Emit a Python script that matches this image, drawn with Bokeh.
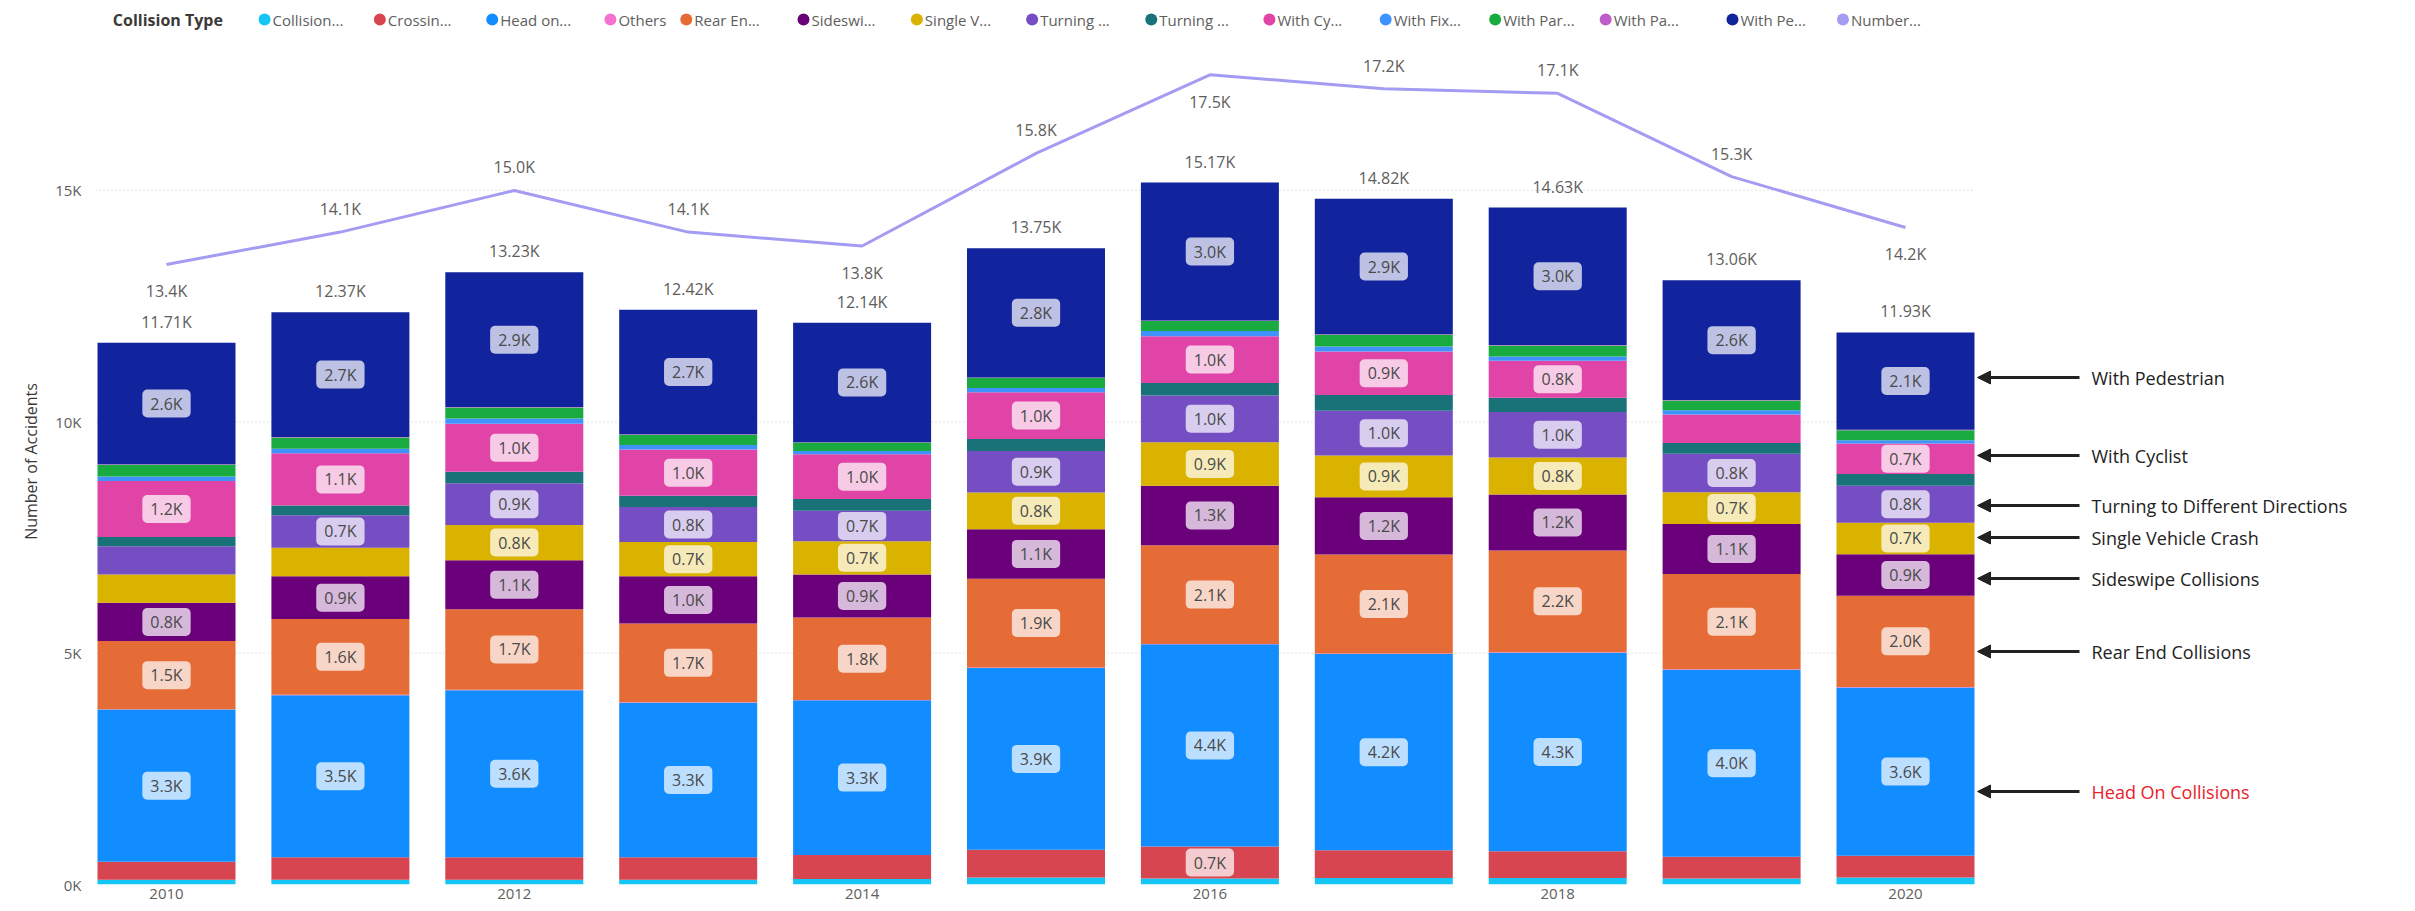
from bokeh.plotting import figure
from bokeh.layouts import column
from bokeh.models import (ColumnDataSource, FixedTicker, Arrow, NormalHead,
                          CustomJSTickFormatter, Range1d)
from bokeh.core.properties import value
from bokeh.embed import file_html
from bokeh.resources import INLINE

# ---------------- data ----------------
years = [2010, 2011, 2012, 2013, 2014, 2015, 2016, 2017, 2018, 2019, 2020]
year_ticks = [2010, 2012, 2014, 2016, 2018, 2020]
y_ticks = [0, 5000, 10000, 15000]

collision       = [100, 100, 100, 100, 120, 150, 130, 140, 140, 130, 150]
crossing        = [390, 490, 490, 490, 520, 600, 690, 600, 580, 470, 470]
head_on         = [3290, 3500, 3610, 3340, 3340, 3930, 4370, 4240, 4290, 4040, 3640]
others          = [10, 10, 10, 10, 10, 10, 10, 10, 10, 10, 10]
rear_end        = [1470, 1640, 1740, 1700, 1780, 1920, 2130, 2140, 2200, 2060, 1970]
sideswipe       = [830, 920, 1060, 1020, 930, 1070, 1290, 1240, 1210, 1080, 900]
single_vehicle  = [610, 620, 760, 740, 720, 790, 940, 900, 800, 690, 680]
turning_diff    = [610, 700, 900, 760, 660, 900, 1010, 970, 980, 830, 800]
turning_other   = [200, 210, 250, 240, 250, 260, 270, 340, 310, 230, 250]
with_cyclist    = [1210, 1130, 1040, 1000, 970, 1010, 1010, 940, 800, 620, 660]
with_fixed      = [100, 100, 110, 100, 70, 90, 110, 110, 90, 90, 70]
with_parked     = [250, 240, 240, 220, 180, 220, 220, 250, 240, 210, 220]
with_pa         = [10, 10, 10, 10, 10, 10, 10, 10, 10, 10, 10]
with_pedestrian = [2630, 2700, 2910, 2690, 2580, 2790, 2980, 2930, 2970, 2590, 2100]

number_of_accidents = [13400, 14100, 15000, 14100, 13800, 15800, 17500, 17200, 17100, 15300, 14200]
line_label_side = ["below", "above", "above", "above", "below", "above",
                   "below", "above", "above", "above", "below"]

legend_title = "Collision Type"
series_keys = ["collision", "crossing", "head_on", "others", "rear_end", "sideswipe",
               "single_vehicle", "turning_diff", "turning_other", "with_cyclist",
               "with_fixed", "with_parked", "with_pa", "with_pedestrian"]
series_values = [collision, crossing, head_on, others, rear_end, sideswipe,
                 single_vehicle, turning_diff, turning_other, with_cyclist,
                 with_fixed, with_parked, with_pa, with_pedestrian]
legend_labels = ["Collision...", "Crossin...", "Head on...", "Others", "Rear En...",
                 "Sideswi...", "Single V...", "Turning ...", "Turning ...", "With Cy...",
                 "With Fix...", "With Par...", "With Pa...", "With Pe...", "Number..."]
series_colors = ["#15C6F4", "#D64550", "#118DFF", "#F472D0", "#E66C37", "#6B007B",
                 "#D9B300", "#744EC2", "#197278", "#E044A7", "#4092FF", "#1AAB40",
                 "#BE5DC9", "#12239E"]
line_color = "#A49BF2"

annotation_texts = ["With Pedestrian", "With Cyclist", "Turning to Different Directions",
                    "Single Vehicle Crash", "Sideswipe Collisions", "Rear End Collisions",
                    "Head On Collisions"]

# ---------------- layout helpers (window pixels -> data) ----------------
W = 2415
LEG_H = 38
FRAME_LEFT, FRAME_BOTTOM = 95, 884

def xd(px):
    return 2010 + (px - 166) / 173.9

def yd(py):
    return (FRAME_BOTTOM - py) / 0.04627

FONT = value("Open Sans")
GRAY = "#605E5C"

# ---------------- legend strip ----------------
leg = figure(width=W, height=LEG_H, output_backend="svg", toolbar_location=None,
             x_range=Range1d(0, W), y_range=Range1d(0, LEG_H),
             x_axis_type=None, y_axis_type=None, min_border=0)
leg.outline_line_color = None
leg.grid.visible = False
legend_px = [176, 296, 413, 536, 615, 737, 855, 975, 1099, 1222, 1343, 1457, 1572, 1704, 1819]
leg_y = LEG_H - 19
leg.scatter(x=legend_px, y=[leg_y] * len(legend_px), size=12,
            color=series_colors + [line_color], line_width=0)
leg.text(x=legend_px, y=[leg_y] * len(legend_px), text=legend_labels,
         x_offset=8, text_align="left", text_baseline="middle", text_font=FONT,
         text_font_size="15px", text_color=GRAY)
leg.text(x=[18], y=[leg_y], text=[legend_title], text_align="left", text_baseline="middle",
         text_font=FONT, text_font_size="16px", text_font_style="bold", text_color="#3B3A39")

# ---------------- main chart ----------------
H = 911 - LEG_H
p = figure(width=W, height=H, output_backend="svg", toolbar_location=None,
           x_range=Range1d(xd(FRAME_LEFT), xd(W)), y_range=Range1d(0, yd(LEG_H)),
           min_border_left=FRAME_LEFT, min_border_right=0, min_border_top=0,
           min_border_bottom=911 - FRAME_BOTTOM)
p.outline_line_color = None
p.xgrid.visible = False
p.ygrid.visible = False

# gridlines (dotted), ending right of the last bar
grid_y = [t for t in y_ticks if t > 0]
p.segment(x0=[xd(FRAME_LEFT)] * len(grid_y), y0=grid_y, x1=[xd(1972)] * len(grid_y),
          y1=grid_y, line_color="#D0D0D0", line_dash="1 3", line_width=1.2)

# stacked bars
data = {"year": years}
for k, v in zip(series_keys, series_values):
    data[k] = v
src = ColumnDataSource(data)
p.vbar_stack(series_keys, x="year", width=138 / 173.9, color=series_colors, source=src,
             line_width=0)

# segment data labels
lx, ly, lt = [], [], []
for i, yr in enumerate(years):
    base = 0
    for vals in series_values:
        v = vals[i]
        if v >= 650:
            lx.append(yr)
            ly.append(base + v / 2)
            lt.append(f"{v / 1000:.1f}K")
        base += v
p.text(x=lx, y=ly, text=lt, text_align="center", text_baseline="middle",
       text_font=FONT, text_font_size="16px", text_color="#4A4A4A",
       background_fill_color="white", background_fill_alpha=0.72,
       border_radius=5, padding=(8, 3))

# totals above bars
totals = [sum(vals[i] for vals in series_values) for i in range(len(years))]
p.text(x=years, y=totals, text=[f"{t / 1000:.2f}K" for t in totals],
       y_offset=-21, text_align="center", text_baseline="middle",
       text_font=FONT, text_font_size="16px", text_color=GRAY)

# line
p.line(years, number_of_accidents, line_color=line_color, line_width=3)
line_src = ColumnDataSource(dict(
    x=years, y=number_of_accidents,
    t=[f"{v / 1000:.1f}K" for v in number_of_accidents],
    off=[-23 if s == "above" else 27 for s in line_label_side]))
p.text(x="x", y="y", text="t", y_offset="off", source=line_src, text_align="center",
       text_baseline="middle", text_font=FONT, text_font_size="16px", text_color=GRAY)

# axes
p.xaxis.ticker = FixedTicker(ticks=year_ticks)
p.yaxis.ticker = FixedTicker(ticks=y_ticks)
p.yaxis.formatter = CustomJSTickFormatter(code="return (tick/1000).toFixed(0) + 'K';")
for ax in (p.xaxis[0], p.yaxis[0]):
    ax.axis_line_color = None
    ax.major_tick_line_color = None
    ax.minor_tick_line_color = None
    ax.major_tick_out = 0
    ax.major_tick_in = 0
    ax.minor_tick_out = 0
    ax.minor_tick_in = 0
    ax.major_label_text_font = "Open Sans"
    ax.major_label_text_font_size = "15px"
    ax.major_label_text_color = GRAY
p.xaxis.major_label_standoff = 4
p.yaxis.major_label_standoff = 14
p.yaxis.axis_label = "Number of Accidents"
p.yaxis.axis_label_text_font = "Open Sans"
p.yaxis.axis_label_text_font_size = "16px"
p.yaxis.axis_label_text_font_style = "normal"
p.yaxis.axis_label_text_color = "#3B3A39"
p.yaxis.axis_label_standoff = 10

# right-side annotations with arrows
ann_py = [377, 455, 505, 537, 578, 651, 791]
ann_colors = ["#222222"] * 6 + ["#E8232B"]
for py in ann_py:
    p.add_layout(Arrow(end=NormalHead(size=13, fill_color="#222222", line_color="#222222"),
                       x_start=xd(2079), y_start=yd(py), x_end=xd(1977), y_end=yd(py),
                       line_width=3, line_color="#222222"))
p.text(x=[xd(2091)] * len(ann_py), y=[yd(v) for v in ann_py], text=annotation_texts,
       text_align="left", text_baseline="middle", text_font=FONT, text_font_size="18px",
       text_color=ann_colors)

layout = column(leg, p, spacing=0)
open("out.html", "w").write(file_html(layout, INLINE))
